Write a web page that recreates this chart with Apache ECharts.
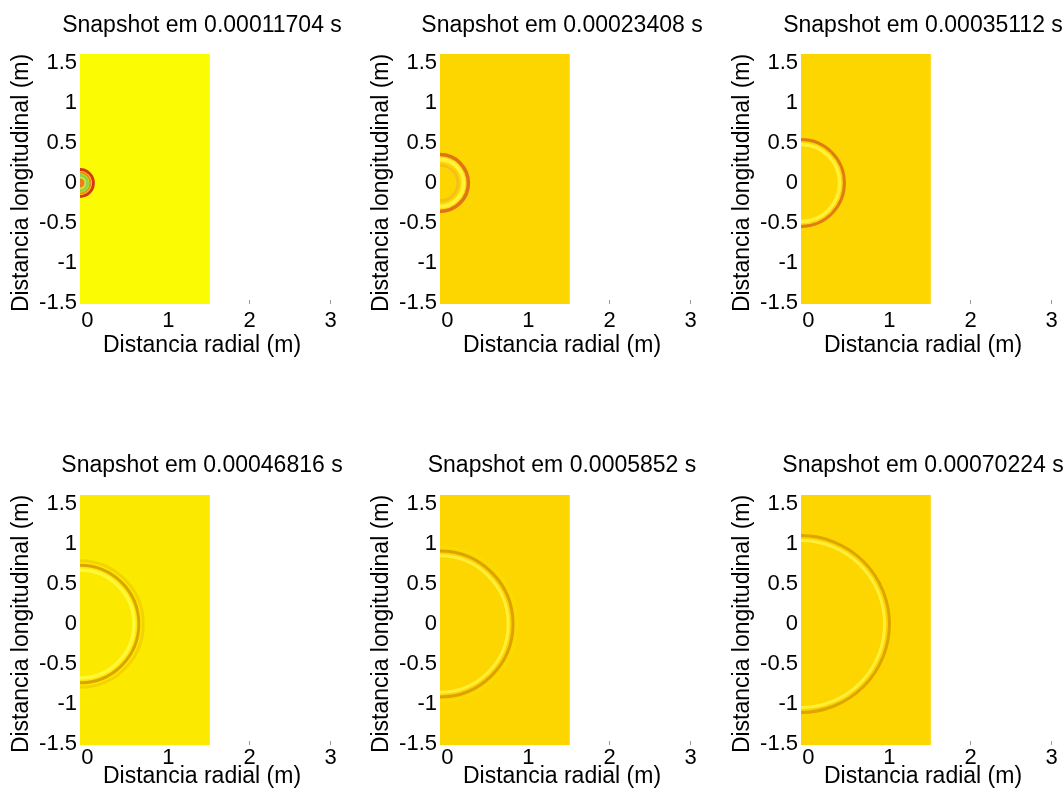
<!DOCTYPE html>
<html>
<head>
<meta charset="utf-8">
<script src="https://cdn.jsdelivr.net/npm/echarts@6/dist/echarts.min.js"></script>
<style>
  html, body { margin: 0; background: #fff; }
  #chart { width: 1064px; height: 799px; }
</style>
</head>
<body>
<div id="chart"></div>
<script>
// snapshot times (s)
const snapshotTimes = ['0.00011704', '0.00023408', '0.00035112', '0.00046816', '0.0005852', '0.00070224']
const radialTicks = [0, 1, 2, 3]
const longTicks = [-1.5, -1, -0.5, 0, 0.5, 1, 1.5]
// extent of the computed field (m)
const fieldR = [-0.09, 1.51]
const fieldZ = [-1.51, 1.61]
// source position (m)
const sourceR = -0.09
const sourceZ = 0
// wavefront radii (m) per snapshot
const ringRadii = [
  [0.165, 0.128, 0.095, 0.062, 0.03],
  [0.35, 0.29, 0.22],
  [0.535, 0.475],
  [0.78, 0.725, 0.665],
  [0.95, 0.9, 0.84],
  [1.09, 1.03]
]

// styles
const fieldColors = ['#fbfb04', '#fdd600', '#fdd600', '#fbe900', '#fdd600', '#fdd600']
const ringColors = [
  ['#d43a12', '#ee8a1c', '#8ed24a', '#c8e03c', '#f07a1e'],
  ['#e0721a', '#fff23a', '#f3c01c'],
  ['#e07c14', '#fff03a'],
  ['#f4d400', '#dca400', '#fff73a'],
  ['#f9dd00', '#dea200', '#ffee3a'],
  ['#dea400', '#ffee3a']
]
const ringWidths = [
  [3, 2, 3, 2, 4],
  [3.5, 4, 3],
  [3, 3.5],
  [3, 3, 3.5],
  [2, 3, 3],
  [3, 3]
]
const font = 'Liberation Sans, Arial, Helvetica, sans-serif'
const colLeft = [80, 440, 801]
const rowTop = [54, 495]
const gridW = 258
const gridH = 250

const chart = echarts.init(document.getElementById('chart'))

function renderField(params, api) {
  const p0 = api.coord([api.value(0), api.value(3)])
  const p1 = api.coord([api.value(1), api.value(2)])
  return {
    type: 'rect',
    shape: { x: p0[0], y: p0[1], width: p1[0] - p0[0], height: p1[1] - p0[1] },
    style: { fill: api.visual('color') }
  }
}

function makeRingRenderer(k) {
  return function (params, api) {
    const c = api.coord([sourceR, sourceZ])
    const r = api.size([api.value(0), 0])[0]
    return {
      type: 'arc',
      shape: { cx: c[0], cy: c[1], r: r, startAngle: -Math.PI / 2, endAngle: Math.PI / 2 },
      style: { stroke: api.visual('color'), lineWidth: ringWidths[k][params.dataIndex], fill: null }
    }
  }
}

const grids = []
const xAxes = []
const yAxes = []
const series = []
const graphics = []

snapshotTimes.forEach((t, k) => {
  const row = Math.floor(k / 3)
  const col = k % 3
  const left = colLeft[col]
  const top = rowTop[row]
  grids.push({ left: left, top: top, width: gridW, height: gridH })
  xAxes.push({
    gridIndex: k,
    type: 'value',
    min: -0.09,
    max: 3.09,
    axisLine: { show: false, onZero: false },
    splitLine: { show: false },
    axisTick: {
      show: true,
      inside: true,
      length: 4,
      customValues: radialTicks,
      lineStyle: { color: '#999' }
    },
    axisLabel: {
      customValues: radialTicks,
      fontFamily: font,
      fontSize: 22,
      color: '#000',
      margin: row === 0 ? 6 : 2
    }
  })
  yAxes.push({
    gridIndex: k,
    type: 'value',
    min: -1.51,
    max: 1.61,
    axisLine: { show: false, onZero: false },
    splitLine: { show: false },
    axisTick: { show: false },
    axisLabel: {
      customValues: longTicks,
      fontFamily: font,
      fontSize: 22,
      color: '#000',
      margin: 3
    }
  })
  series.push({
    type: 'custom',
    xAxisIndex: k,
    yAxisIndex: k,
    renderItem: renderField,
    itemStyle: { color: fieldColors[k] },
    data: [[fieldR[0], fieldR[1], fieldZ[0], fieldZ[1]]],
    z: 2,
    silent: true
  })
  series.push({
    type: 'custom',
    xAxisIndex: k,
    yAxisIndex: k,
    renderItem: makeRingRenderer(k),
    data: ringRadii[k].map((r, i) => ({ value: [r, 0], itemStyle: { color: ringColors[k][i] } })),
    z: 3,
    silent: true
  })

  const cx = left + 122
  const textStyle = { fontFamily: font, fontSize: 23, fill: '#000' }
  graphics.push({
    type: 'text',
    x: cx,
    y: row === 0 ? 26 : 466,
    style: Object.assign({ text: 'Snapshot em ' + t + ' s', align: 'center', verticalAlign: 'middle' }, textStyle)
  })
  graphics.push({
    type: 'text',
    x: cx,
    y: row === 0 ? 346 : 777,
    style: Object.assign({ text: 'Distancia radial (m)', align: 'center', verticalAlign: 'middle' }, textStyle)
  })
  graphics.push({
    type: 'text',
    x: left - 58,
    y: row === 0 ? 183 : 624,
    rotation: Math.PI / 2,
    style: Object.assign({ text: 'Distancia longitudinal (m)', align: 'center', verticalAlign: 'middle' }, textStyle)
  })
})

chart.setOption({
  backgroundColor: '#fff',
  animation: false,
  grid: grids,
  xAxis: xAxes,
  yAxis: yAxes,
  series: series,
  graphic: graphics
})
</script>
</body>
</html>
